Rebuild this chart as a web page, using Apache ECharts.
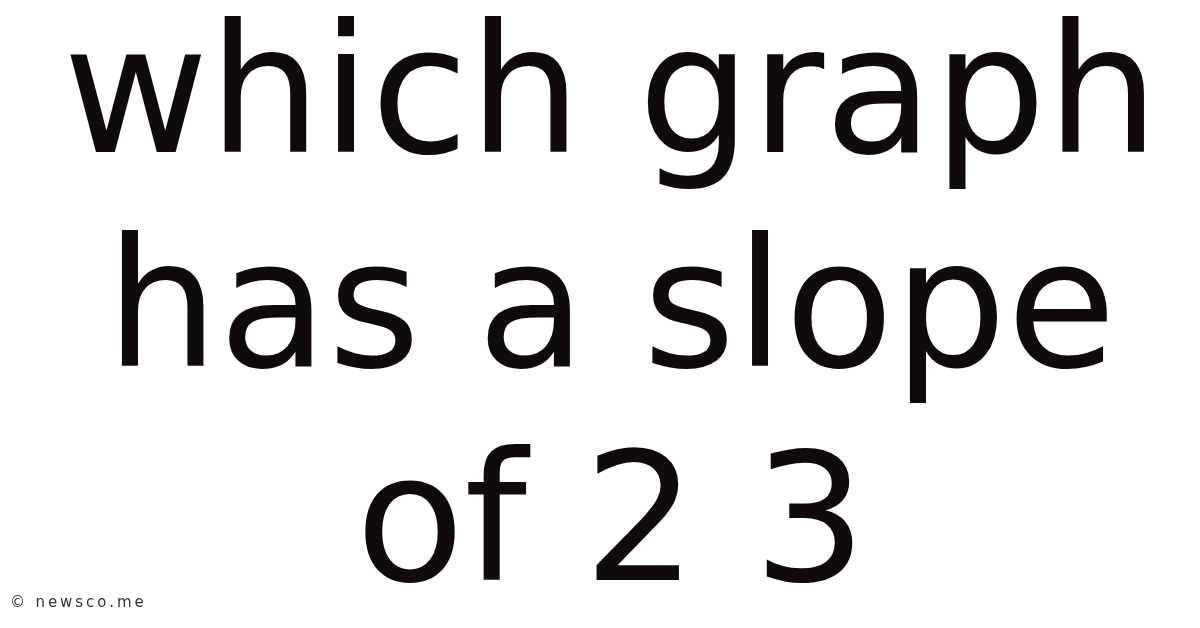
<!DOCTYPE html>
<html>
<head>
<meta charset="utf-8">
<title>which graph has a slope of 2 3</title>
<script src="https://cdn.jsdelivr.net/npm/echarts@6/dist/echarts.min.js"></script>
<style>
  html, body { margin: 0; padding: 0; background: #fff; }
  #chart { width: 1200px; height: 628px; }
</style>
</head>
<body>
<div id="chart"></div>
<script>
// 标题文字（每行一项）
var titleLines = ['which graph', 'has a slope', 'of 2 3'];
// 页脚
var footerText = '\u00a9 newsco.me';

(function() {
  var myChart = echarts.init(document.getElementById('chart'), null, { renderer: 'canvas' });

  var fontSize = 178;
  var lineGap = 214;
  var firstMiddle = 106;

  var elements = titleLines.map(function(line, i) {
    return {
      type: 'text',
      x: 611,
      y: firstMiddle + i * lineGap,
      style: {
        text: line,
        fill: '#100a0b',
        font: 'normal ' + fontSize + 'px "DejaVu Sans"',
        align: 'center',
        verticalAlign: 'middle'
      }
    };
  });

  // 页脚文字，逐字排开以模拟字间距
  var footFont = 'normal 15px "DejaVu Sans"';
  var ctx = document.createElement('canvas').getContext('2d');
  ctx.font = footFont;
  var fx = 10;
  footerText.split('').forEach(function(ch) {
    elements.push({
      type: 'text',
      x: fx,
      y: 603,
      style: {
        text: ch,
        fill: '#333333',
        font: footFont,
        align: 'left',
        verticalAlign: 'middle'
      }
    });
    fx += ctx.measureText(ch).width + 2.9;
  });

  var option = {
    backgroundColor: '#ffffff',
    graphic: { elements: elements }
  };
  myChart.setOption(option);
  window.addEventListener('resize', function() {
    myChart.resize();
  });
})();
</script>
</body>
</html>
